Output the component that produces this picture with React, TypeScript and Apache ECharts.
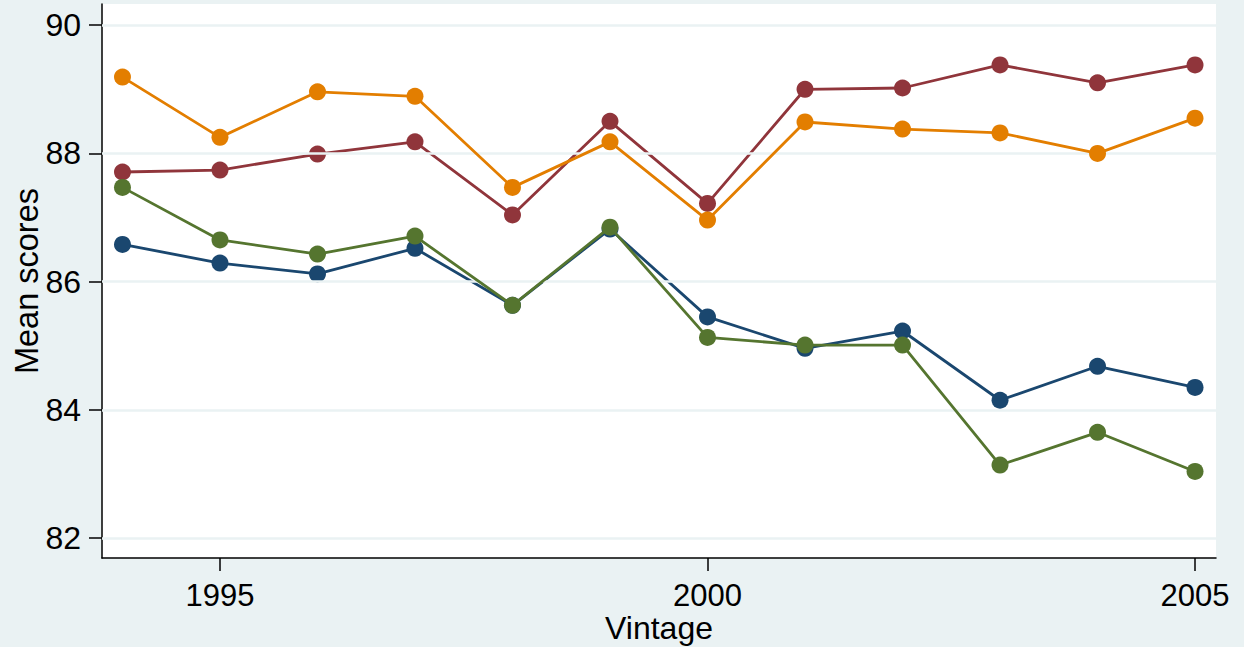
import React, { useEffect, useRef } from "react";
import * as echarts from "echarts";

const years = [1994, 1995, 1996, 1997, 1998, 1999, 2000, 2001, 2002, 2003, 2004, 2005];
const navyValues = [86.58, 86.29, 86.12, 86.52, 85.63, 86.82, 85.45, 84.96, 85.23, 84.15, 84.68, 84.35];
const maroonValues = [87.71, 87.74, 87.99, 88.18, 87.04, 88.5, 87.22, 89.0, 89.02, 89.38, 89.1, 89.38];
const greenValues = [87.47, 86.65, 86.43, 86.71, 85.63, 86.85, 85.13, 85.01, 85.01, 83.14, 83.65, 83.04];
const orangeValues = [89.19, 88.25, 88.96, 88.89, 87.47, 88.18, 86.96, 88.49, 88.38, 88.32, 88.0, 88.55];
const xTicks = [1995, 2000, 2005];
const yTicks = [82, 84, 86, 88, 90];

const FONT = "'Liberation Sans', Arial, sans-serif";

export default function App() {
  const ref = useRef<HTMLDivElement>(null);
  useEffect(() => {
    if (!ref.current) return;
    const chart = echarts.init(ref.current, undefined, { renderer: "svg" });
    const mk = (name: string, vals: number[], color: string, z: number) => ({
      name,
      type: "line",
      data: years.map((y, i) => [y, vals[i]]),
      symbol: "circle",
      symbolSize: 17,
      z,
      lineStyle: { color, width: 2.8 },
      itemStyle: { color },
    });
    chart.setOption({
      animation: false,
      backgroundColor: "#EAF2F3",
      textStyle: { fontFamily: FONT },
      grid: {
        left: 102,
        right: 28,
        top: 4,
        bottom: 89,
        show: true,
        backgroundColor: "#ffffff",
        borderWidth: 0,
        containLabel: false,
        outerBoundsMode: "none",
      },
      xAxis: {
        type: "value",
        min: 1993.79,
        max: 2005.215,
        name: "Vintage",
        nameLocation: "middle",
        nameGap: 54,
        nameMoveOverlap: false,
        nameTextStyle: { fontSize: 32, color: "#000", fontFamily: FONT },
        axisLine: { show: true, onZero: false, lineStyle: { color: "#000", width: 1.5 } },
        axisTick: { show: true, length: 13, customValues: xTicks, lineStyle: { color: "#000", width: 1.5 } },
        axisLabel: {
          customValues: xTicks,
          fontSize: 31,
          color: "#000",
          margin: 22,
          fontFamily: FONT,
          formatter: (v: number) => String(Math.round(v)),
        },
        splitLine: { show: false },
      },
      yAxis: {
        type: "value",
        min: 81.69,
        max: 90.33,
        name: "Mean scores",
        nameLocation: "middle",
        nameGap: 59,
        nameMoveOverlap: false,
        nameTextStyle: { fontSize: 32.5, color: "#000", fontFamily: FONT },
        axisLine: { show: true, onZero: false, lineStyle: { color: "#000", width: 1.5 } },
        axisTick: { show: true, length: 13, customValues: yTicks, lineStyle: { color: "#000", width: 1.5 } },
        axisLabel: {
          customValues: yTicks,
          fontSize: 32,
          color: "#000",
          margin: 21,
          fontFamily: FONT,
          formatter: (v: number) => String(Math.round(v)),
        },
        splitLine: { show: false },
      },
      series: [
        {
          name: "grid",
          type: "line",
          data: [],
          z: 1,
          silent: true,
          markLine: {
            silent: true,
            symbol: ["none", "none"],
            label: { show: false },
            lineStyle: { color: "#EAF2F3", width: 2.5, type: "solid" },
            data: yTicks.map((v) => ({ yAxis: v })),
          },
        },
        mk("navy", navyValues, "#1A476F", 3),
        mk("maroon", maroonValues, "#90353B", 4),
        mk("green", greenValues, "#55752F", 5),
        mk("orange", orangeValues, "#E37E00", 6),
      ],
    });
    return () => chart.dispose();
  }, []);
  return (
    <div
      ref={ref}
      style={{ position: "fixed", left: 0, top: 0, width: 1244, height: 647 }}
    />
  );
}
